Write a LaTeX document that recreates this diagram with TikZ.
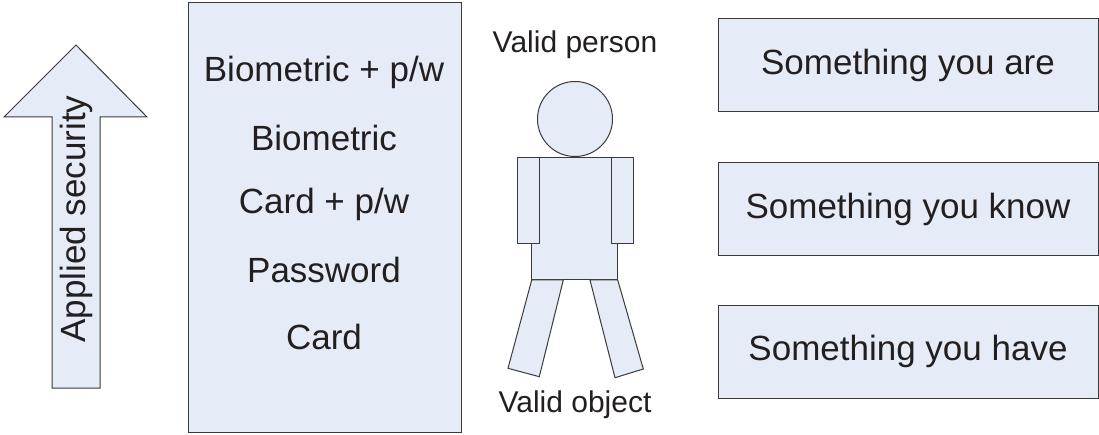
\documentclass[tikz,border=0pt]{standalone}
\usepackage{fontspec}
\setmainfont{Liberation Sans}
\definecolor{fillblue}{HTML}{E6ECF7}
\definecolor{linegray}{HTML}{3A3A3A}
\definecolor{txt}{HTML}{231F20}
\begin{document}
\begin{tikzpicture}[x=1pt,y=-1pt,
  blueshape/.style={draw=linegray,fill=fillblue,line width=1pt,line join=miter},
  bigtxt/.style={text=txt,font=\fontsize{35}{42}\selectfont,inner sep=0pt,anchor=center},
  smalltxt/.style={text=txt,font=\fontsize{30}{36}\selectfont,inner sep=0pt,anchor=center},
  factor/.style={blueshape,rectangle,minimum width=380pt,minimum height=93pt,inner sep=0pt,text=txt,font=\fontsize{35}{42}\selectfont}]
\useasboundingbox (0,0) rectangle (1099,435);
% arrow
\draw[blueshape] (76,45) -- (147,117) -- (100,117) -- (100,388) -- (52,388) -- (52,117) -- (4,117) -- cycle;
\node[bigtxt,rotate=90] (applied) at (76,219) {Applied security};
% big box
\node[blueshape,rectangle,minimum width=273pt,minimum height=429pt,inner sep=0pt] (list) at (324.5,217.5) {};
\node[bigtxt] (l1) at (324,72) {Biometric + p/w};
\node[bigtxt] (l2) at (324,138) {Biometric};
\node[bigtxt] (l3) at (324,204) {Card + p/w};
\node[bigtxt] (l4) at (324,270) {Password};
\node[bigtxt] (l5) at (324,337) {Card};
% person
\node[smalltxt] (vp) at (575,45) {Valid person};
\draw[blueshape] (531.7,158) rectangle (617.7,280);
\draw[blueshape] (517,158) rectangle (539,244);
\draw[blueshape] (611,158) rectangle (633,244);
\draw[blueshape] (531.7,280) -- (563.3,280) -- (539.3,376.7) -- (508,368.3) -- cycle;
\draw[blueshape] (590,280) -- (617.7,280) -- (643.3,369) -- (615,377.7) -- cycle;
\node[blueshape,circle,minimum size=75pt,inner sep=0pt] (head) at (575,119) {};
\node[smalltxt] (vo) at (575,405) {Valid object};
% factors
\node[factor] (are) at (908,65.5) {Something you are};
\node[factor] (know) at (908,209) {Something you know};
\node[factor] (have) at (908,351.5) {Something you have};
\end{tikzpicture}
\end{document}
